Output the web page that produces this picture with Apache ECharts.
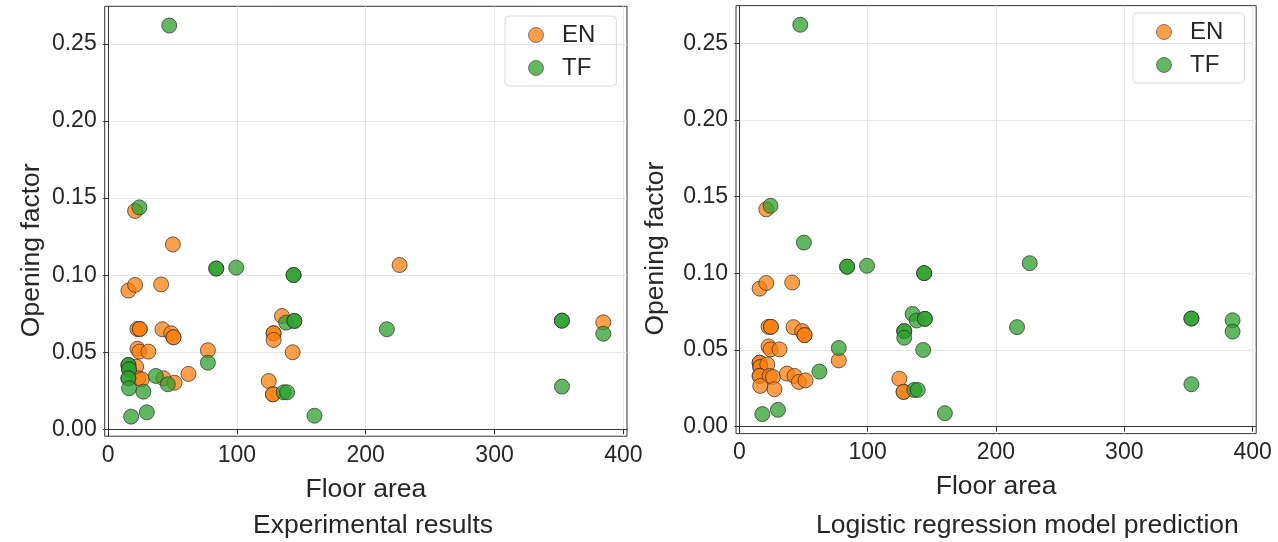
<!DOCTYPE html>
<html>
<head>
<meta charset="utf-8">
<script src="https://cdn.jsdelivr.net/npm/echarts@6/dist/echarts.min.js"></script>
<style>
  html, body { margin: 0; padding: 0; background: #fff; }
  #main { width: 1278px; height: 542px; }
</style>
</head>
<body>
<div id="main"></div>
<script>
// same points in both panels, only the class label differs
var floorArea = [
  47.5, 21, 24.3, 50.3, 15.8, 21, 41.2, 84, 84, 99.5,
  22.8, 24.6, 24.6, 42.2, 49, 50.8, 50.8, 22.8, 24.3, 31.3,
  77.5, 77.5, 15.8, 15.8, 16.3, 16.3, 21.8, 15.8, 15.8, 23.6,
  26.2, 16.3, 27.4, 37.1, 43, 46.4, 51.6, 62.4, 17.9, 30.1,
  144, 144, 135, 138.2, 144.6, 144.6, 128.5, 128.5, 128.5, 143.3,
  124.7, 128, 128, 136.3, 139, 160.2, 226.3, 216.4, 352.3, 352.3,
  384.4, 384.4, 352.3
];
var openingFactor = [
  0.262, 0.1417, 0.144, 0.120, 0.090, 0.0937, 0.094, 0.1043, 0.1043, 0.1049,
  0.0651, 0.0651, 0.0651, 0.0649, 0.0623, 0.0597, 0.0597, 0.0523, 0.0504, 0.0504,
  0.0513, 0.0432, 0.0417, 0.0417, 0.0389, 0.0389, 0.0406, 0.0331, 0.0331, 0.0331,
  0.0324, 0.0266, 0.0244, 0.0346, 0.0331, 0.0292, 0.0302, 0.0359, 0.0082, 0.011,
  0.1001, 0.1001, 0.0735, 0.0692, 0.0703, 0.0703, 0.0623, 0.0623, 0.058, 0.050,
  0.0313, 0.0227, 0.0227, 0.024, 0.024, 0.0088, 0.1066, 0.0649, 0.0705, 0.0705,
  0.0694, 0.062, 0.0277
];
var experimental = [
  'TF', 'EN', 'TF', 'EN', 'EN', 'EN', 'EN', 'TF', 'TF', 'TF',
  'EN', 'EN', 'EN', 'EN', 'EN', 'EN', 'EN', 'EN', 'EN', 'EN',
  'EN', 'TF', 'TF', 'TF', 'TF', 'TF', 'EN', 'TF', 'TF', 'EN',
  'EN', 'TF', 'TF', 'TF', 'EN', 'TF', 'EN', 'EN', 'TF', 'TF',
  'TF', 'TF', 'EN', 'TF', 'TF', 'TF', 'EN', 'EN', 'EN', 'EN',
  'EN', 'EN', 'EN', 'TF', 'TF', 'TF', 'EN', 'TF', 'TF', 'TF',
  'EN', 'TF', 'TF'
];
var predicted = [
  'TF', 'EN', 'TF', 'TF', 'EN', 'EN', 'EN', 'TF', 'TF', 'TF',
  'EN', 'EN', 'EN', 'EN', 'EN', 'EN', 'EN', 'EN', 'EN', 'EN',
  'TF', 'EN', 'EN', 'EN', 'EN', 'EN', 'EN', 'EN', 'EN', 'EN',
  'EN', 'EN', 'EN', 'EN', 'EN', 'EN', 'EN', 'TF', 'TF', 'TF',
  'TF', 'TF', 'TF', 'TF', 'TF', 'TF', 'TF', 'TF', 'TF', 'TF',
  'EN', 'EN', 'EN', 'TF', 'TF', 'TF', 'TF', 'TF', 'TF', 'TF',
  'TF', 'TF', 'TF'
];
var classes = ['EN', 'TF'];
var classColors = ['#ff7f0e', '#2ca02c'];
var xTicks = [0, 100, 200, 300, 400];
var yTicks = [0, 0.05, 0.10, 0.15, 0.20, 0.25];
var panelTitles = ['Experimental results', 'Logistic regression model prediction'];

var font = 'Liberation Sans, Arial, sans-serif';
var txt = '#262626';

function pick(labels, cls) {
  var out = [];
  for (var i = 0; i < floorArea.length; i++) {
    if (labels[i] === cls) out.push([floorArea[i], openingFactor[i]]);
  }
  return out;
}

function xAxisFor(idx) {
  return {
    gridIndex: idx, type: 'value', min: -2.6, max: 402.8,
    name: 'Floor area', nameLocation: 'middle', nameGap: 40,
    nameTextStyle: { fontSize: 26.5, color: txt, fontFamily: font },
    axisLine: { show: true, lineStyle: { color: '#333' } },
    axisTick: { show: true, length: 5, lineStyle: { color: '#333' }, customValues: xTicks },
    axisLabel: { fontSize: 23, color: txt, fontFamily: font, margin: 8, customValues: xTicks },
    splitLine: { show: true, lineStyle: { color: '#e6e6e6' } }
  };
}
function yAxisFor(idx, gap) {
  return {
    gridIndex: idx, type: 'value', min: -0.0045, max: 0.2745,
    name: 'Opening factor', nameLocation: 'middle', nameGap: gap, nameRotate: 90,
    nameTextStyle: { fontSize: 26.5, color: txt, fontFamily: font, padding: [0, 58, 0, 0] },
    axisLine: { show: true, lineStyle: { color: '#333' } },
    axisTick: { show: true, length: 5, lineStyle: { color: '#333' }, customValues: yTicks },
    axisLabel: {
      fontSize: 23, color: txt, fontFamily: font, margin: 8, customValues: yTicks,
      formatter: function (v) { return v.toFixed(2); }
    },
    splitLine: { show: true, lineStyle: { color: '#e6e6e6' } }
  };
}

var series = [];
[experimental, predicted].forEach(function (labels, g) {
  classes.forEach(function (cls, c) {
    series.push({
      name: cls, type: 'scatter', xAxisIndex: g, yAxisIndex: g,
      symbolSize: 15,
      itemStyle: { color: classColors[c], opacity: 0.75, borderColor: '#333', borderWidth: 1 },
      emphasis: { disabled: true },
      data: pick(labels, cls)
    });
  });
});

function legendFor(left, top) {
  return {
    left: left, top: top, orient: 'vertical', data: classes,
    icon: 'circle', itemWidth: 42, itemHeight: 15, itemGap: 9,
    padding: [7, 21, 6, 23],
    borderColor: '#d9d9d9', borderWidth: 1, borderRadius: 4,
    textStyle: { fontSize: 24, color: txt, fontFamily: font, lineHeight: 24 },
    itemStyle: { borderColor: '#555', borderWidth: 1 },
    selectedMode: false
  };
}

var myChart = echarts.init(document.getElementById('main'));
myChart.setOption({
  animation: false,
  backgroundColor: '#fff',
  title: [
    { text: panelTitles[0], left: 248, top: 507, textStyle: { fontSize: 26.5, fontWeight: 'normal', color: txt, fontFamily: font } },
    { text: panelTitles[1], left: 811, top: 507, textStyle: { fontSize: 26.5, fontWeight: 'normal', color: txt, fontFamily: font } }
  ],
  legend: [legendFor(505, 16), legendFor(1133, 13)],
  grid: [
    { left: 104.7, top: 6.3, width: 522.3, height: 429.9, show: true, borderColor: '#333', borderWidth: 1 },
    { left: 736, top: 5.6, width: 520.2, height: 428, show: true, borderColor: '#333', borderWidth: 1 }
  ],
  xAxis: [xAxisFor(0), xAxisFor(1)],
  yAxis: [yAxisFor(0, 60), yAxisFor(1, 67)],
  series: series
});
</script>
</body>
</html>
